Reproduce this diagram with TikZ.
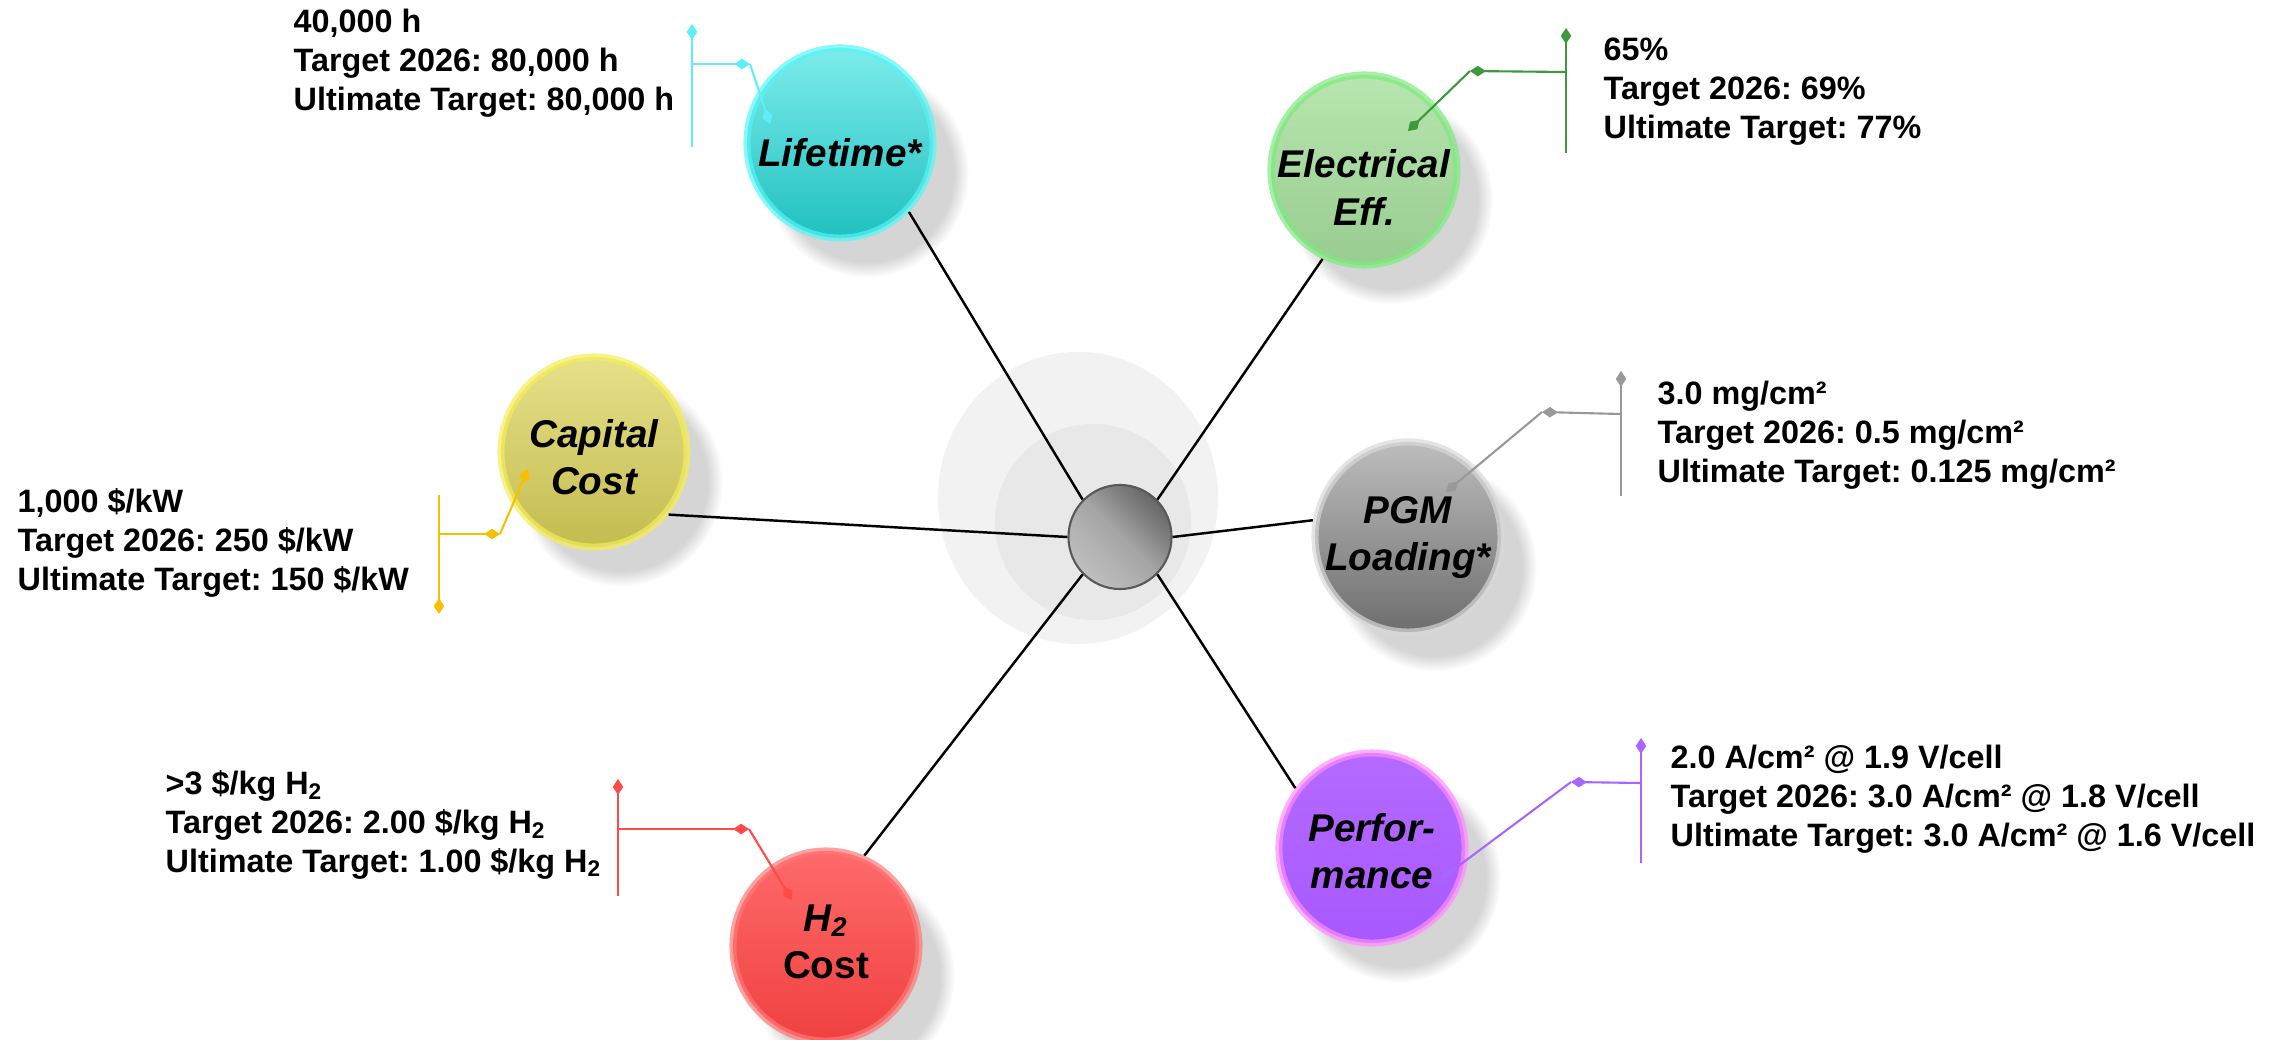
\documentclass[tikz,border=0pt]{standalone}
\usepackage{fontspec}
\setmainfont{Liberation Sans}
\frenchspacing
\usetikzlibrary{shapes.geometric,shadows,arrows.meta}

\definecolor{lifetop}{HTML}{7DEBEB}\definecolor{lifebot}{HTML}{20C0C0}\definecolor{liferim}{HTML}{55F5F5}
\definecolor{electop}{HTML}{B8E6B0}\definecolor{elecbot}{HTML}{98CC90}\definecolor{elecrim}{HTML}{7EEA7E}
\definecolor{captop}{HTML}{E6E08A}\definecolor{capbot}{HTML}{C4BC50}\definecolor{caprim}{HTML}{F5EE55}
\definecolor{pgmtop}{HTML}{BDBDBD}\definecolor{pgmbot}{HTML}{6E6E6E}\definecolor{pgmrim}{HTML}{D8D8D8}
\definecolor{perftop}{HTML}{B46AFF}\definecolor{perfbot}{HTML}{A858FF}\definecolor{perfrim}{HTML}{FF8CFF}
\definecolor{htop}{HTML}{FF6A6A}\definecolor{hbot}{HTML}{F04040}\definecolor{hrim}{HTML}{FF7878}
\definecolor{lifeline}{HTML}{5EEFF5}
\definecolor{elecline}{HTML}{3C9A3C}
\definecolor{capline}{HTML}{F5C000}
\definecolor{pgmline}{HTML}{999999}
\definecolor{perfline}{HTML}{A865FF}
\definecolor{hline}{HTML}{FF4A4A}

% bubble caption that does not widen the bubble, lowered by #1
\newcommand\bubtext[2][4pt]{\makebox[0pt]{\smash{\raisebox{-#1}{\begin{tabular}{@{}c@{}}#2\end{tabular}}}}}

\begin{document}
\begin{tikzpicture}[x=0.01cm,y=-0.01cm,
        bubble/.style n args={3}{ellipse,minimum width=1.86cm,minimum height=1.9cm,inner sep=0pt,
            font=\fontsize{11}{13.4}\selectfont\bfseries\itshape,
            top color=#1,bottom color=#2,draw=#3,draw opacity=0.7,line width=2pt,
            circular drop shadow={shadow xshift=0.24cm,shadow yshift=-0.27cm,opacity=0.33}},
        info/.style={anchor=base west,align=left,inner sep=0pt,font=\fontsize{9.2}{10.95}\selectfont\bfseries},
        callout/.style={draw=#1,line width=0.6pt,-{Diamond[length=4.5pt,width=3pt]}},
        spoke/.style={draw=black,line width=0.7pt}]

    \useasboundingbox (0,0) rectangle (2278,1039);

    % glow behind the hub
    \fill[gray!10] (1078,498) ellipse [x radius=1.40cm,y radius=1.46cm];
    \fill[gray!18] (1093,522) circle (0.98cm);

    \node[ellipse,draw=black!65,line width=0.6pt,minimum width=1.03cm,minimum height=1.04cm,
        shading=axis,top color=black!60,bottom color=black!25,middle color=black!35,shading angle=-45] (hub) at (1120,537) {};

    \node[bubble={lifetop}{lifebot}{liferim}] (life) at (840,143) {\bubtext[6.6pt]{Lifetime*}};
    \node[bubble={electop}{elecbot}{elecrim}] (elec) at (1364,170) {\bubtext[9pt]{Electrical\\Eff.}};
    \node[bubble={captop}{capbot}{caprim}] (cap) at (594,452) {\bubtext[5.4pt]{Capital\\Cost}};
    \node[bubble={pgmtop}{pgmbot}{pgmrim}] (pgm) at (1408,537) {\bubtext[3pt]{PGM\\Loading*}};
    \node[bubble={perftop}{perfbot}{perfrim}] (perf) at (1372,848) {\bubtext[5pt]{Perfor-\\mance}};
    \node[bubble={htop}{hbot}{hrim}] (h2) at (826,946) {\bubtext[2.5pt]{H\textsubscript{2}\\\upshape Cost}};

    \draw[spoke] (hub.135) -- (life.-45);
    \draw[spoke] (hub.45) -- (elec.245);
    \draw[spoke] (hub.180) -- (cap.-40);
    \draw[spoke] (hub.0) -- (pgm.170);
    \draw[spoke] (hub.-45) -- (perf.142);
    \draw[spoke] (hub.225) -- (h2.67);

    % lifetime
    \coordinate (lifeT) at (692,24);
    \coordinate (lifeB) at (692,147);
    \coordinate (lifeJ) at (692,64);
    \coordinate (lifeK) at (750,64);
    \coordinate (lifeE) at (770,124);
    \draw[callout=lifeline] (lifeB) -- (lifeT);
    \draw[callout=lifeline] (lifeJ) -- (lifeK);
    \draw[callout=lifeline] (lifeK) -- (lifeE);
    \node[info] (lifetxt) at (293,110) {40,000 h\\Target 2026: 80,000 h\\Ultimate Target: 80,000 h};

    % electrical efficiency
    \coordinate (elecT) at (1566,28);
    \coordinate (elecB) at (1566,153);
    \coordinate (elecJ) at (1566,72);
    \coordinate (elecK) at (1470,71);
    \coordinate (elecE) at (1408,131);
    \draw[callout=elecline] (elecB) -- (elecT);
    \draw[callout=elecline] (elecJ) -- (elecK);
    \draw[callout=elecline] (elecK) -- (elecE);
    \node[info] (electxt) at (1603,138) {65\%\\Target 2026: 69\%\\Ultimate Target: 77\%};

    % capital cost
    \coordinate (capT) at (439,495);
    \coordinate (capB) at (439,614);
    \coordinate (capJ) at (439,534);
    \coordinate (capK) at (500,534);
    \coordinate (capE) at (528,469);
    \draw[callout=capline] (capT) -- (capB);
    \draw[callout=capline] (capJ) -- (capK);
    \draw[callout=capline] (capK) -- (capE);
    \node[info] (captxt) at (17,590) {1,000 \$/kW\\Target 2026: 250 \$/kW\\Ultimate Target: 150 \$/kW};

    % pgm loading
    \coordinate (pgmT) at (1621,371);
    \coordinate (pgmB) at (1621,496);
    \coordinate (pgmJ) at (1621,414);
    \coordinate (pgmK) at (1542,412);
    \coordinate (pgmE) at (1446,492);
    \draw[callout=pgmline] (pgmB) -- (pgmT);
    \draw[callout=pgmline] (pgmJ) -- (pgmK);
    \draw[callout=pgmline] (pgmK) -- (pgmE);
    \node[info] (pgmtxt) at (1657,482) {3.0 mg/cm²\\Target 2026: 0.5 mg/cm²\\Ultimate Target: 0.125 mg/cm²};

    % performance
    \coordinate (perfT) at (1641,738);
    \coordinate (perfB) at (1641,863);
    \coordinate (perfJ) at (1641,783);
    \coordinate (perfK) at (1571,782);
    \coordinate (perfE) at (1441,879);
    \draw[callout=perfline] (perfB) -- (perfT);
    \draw[callout=perfline] (perfJ) -- (perfK);
    \draw[callout=perfline] (perfK) -- (perfE);
    \node[info] (perftxt) at (1670,846) {2.0 A/cm² @ 1.9 V/cell\\Target 2026: 3.0 A/cm² @ 1.8 V/cell\\Ultimate Target: 3.0 A/cm² @ 1.6 V/cell};

    % hydrogen cost
    \coordinate (hT) at (618,779);
    \coordinate (hB) at (618,896);
    \coordinate (hJ) at (618,829);
    \coordinate (hK) at (749,829);
    \coordinate (hE) at (792,900);
    \draw[callout=hline] (hB) -- (hT);
    \draw[callout=hline] (hJ) -- (hK);
    \draw[callout=hline] (hK) -- (hE);
    \node[info] (htxt) at (165,872) {>3 \$/kg H\textsubscript{2}\\Target 2026: 2.00 \$/kg H\textsubscript{2}\\Ultimate Target: 1.00 \$/kg H\textsubscript{2}};
\end{tikzpicture}
\end{document}
